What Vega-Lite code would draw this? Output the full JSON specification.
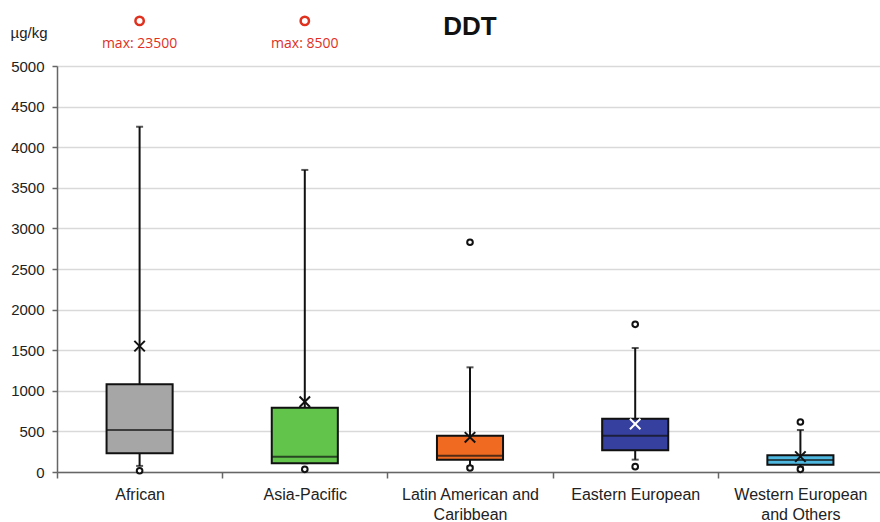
{
  "$schema": "https://vega.github.io/schema/vega-lite/v6.json",
  "width": 826,
  "height": 406,
  "autosize": "none",
  "padding": {"left": 57, "top": 66, "right": 0, "bottom": 50},
  "background": "white",
  "config": {"view": {"stroke": null}, "font": "Liberation Sans"},
  "title": {"text": "DDT", "fontSize": 26, "fontWeight": "bold", "font": "Liberation Sans", "color": "#111", "anchor": "middle", "offset": -28},
  "datasets": {
    "stats": [
      {"region": "African", "lower": 75, "q1": 230, "median": 517, "q3": 1080, "upper": 4252, "mean": 1550},
      {"region": "Asia-Pacific", "lower": 107, "q1": 107, "median": 188, "q3": 792, "upper": 3720, "mean": 866},
      {"region": "Latin American and Caribbean", "lower": 70, "q1": 152, "median": 201, "q3": 447, "upper": 1289, "mean": 427},
      {"region": "Eastern European", "lower": 152, "q1": 267, "median": 447, "q3": 657, "upper": 1527, "mean": 591},
      {"region": "Western European and Others", "lower": 60, "q1": 90, "median": 148, "q3": 205, "upper": 517, "mean": 189}
    ],
    "outliers": [
      {"region": "African", "value": 15},
      {"region": "Asia-Pacific", "value": 33},
      {"region": "Latin American and Caribbean", "value": 49},
      {"region": "Latin American and Caribbean", "value": 2829},
      {"region": "Eastern European", "value": 66},
      {"region": "Eastern European", "value": 1819},
      {"region": "Western European and Others", "value": 33},
      {"region": "Western European and Others", "value": 616}
    ],
    "maxima": [
      {"region": "African", "label": "max: 23500"},
      {"region": "Asia-Pacific", "label": "max: 8500"}
    ]
  },
  "encoding": {
    "x": {
      "field": "region",
      "type": "nominal",
      "sort": ["African", "Asia-Pacific", "Latin American and Caribbean", "Eastern European", "Western European and Others"],
      "scale": {"paddingInner": 0, "paddingOuter": 0},
      "axis": {
        "title": null,
        "labelAngle": 0,
        "tickBand": "extent",
        "domainColor": "#666",
        "domainWidth": 1.5,
        "tickColor": "#666",
        "tickWidth": 1.5,
        "tickSize": 6,
        "labelFont": "Liberation Sans",
        "labelFontSize": 16,
        "labelColor": "#222",
        "labelPadding": 8,
        "labelLineHeight": 20,
        "labelExpr": "datum.value == 'Latin American and Caribbean' ? ['Latin American and', 'Caribbean'] : datum.value == 'Western European and Others' ? ['Western European', 'and Others'] : datum.value"
      }
    }
  },
  "layer": [
    {
      "data": {"name": "stats"},
      "mark": {"type": "rule", "color": "#111", "strokeWidth": 2},
      "encoding": {
        "y": {
          "field": "lower",
          "type": "quantitative",
          "scale": {"domain": [0, 5000], "nice": false},
          "axis": {
            "values": [0, 500, 1000, 1500, 2000, 2500, 3000, 3500, 4000, 4500, 5000],
            "format": "d",
            "title": "µg/kg",
            "titleAngle": 0,
            "titleAlign": "left",
            "titleBaseline": "alphabetic",
            "titleX": -47,
            "titleY": -29,
            "titleFontSize": 15,
            "titleFontWeight": "normal",
            "titleFont": "Liberation Sans",
            "titleColor": "#222",
            "gridColor": "#d9d9d9",
            "gridWidth": 1.5,
            "domainColor": "#666",
            "domainWidth": 1.5,
            "tickColor": "#666",
            "tickWidth": 1.5,
            "tickSize": 5,
            "labelFont": "Liberation Sans",
            "labelFontSize": 15,
            "labelColor": "#222",
            "labelPadding": 8
          }
        },
        "y2": {"field": "upper"}
      }
    },
    {
      "data": {"name": "stats"},
      "mark": {"type": "tick", "color": "#111", "thickness": 2, "size": 7},
      "encoding": {"y": {"field": "upper", "type": "quantitative"}}
    },
    {
      "data": {"name": "stats"},
      "mark": {"type": "tick", "color": "#111", "thickness": 2, "size": 7},
      "encoding": {"y": {"field": "lower", "type": "quantitative"}}
    },
    {
      "data": {"name": "stats"},
      "mark": {"type": "bar", "width": {"band": 0.4}, "stroke": "#111", "strokeWidth": 2},
      "encoding": {
        "y": {"field": "q1", "type": "quantitative"},
        "y2": {"field": "q3"},
        "fill": {
          "field": "region",
          "type": "nominal",
          "legend": null,
          "scale": {
            "domain": ["African", "Asia-Pacific", "Latin American and Caribbean", "Eastern European", "Western European and Others"],
            "range": ["#a6a6a6", "#62c44b", "#f06a21", "#36409f", "#4fb8e0"]
          }
        }
      }
    },
    {
      "data": {"name": "stats"},
      "mark": {"type": "tick", "color": "#111", "thickness": 2, "size": 66},
      "encoding": {"y": {"field": "median", "type": "quantitative"}}
    },
    {
      "data": {"name": "stats"},
      "mark": {"type": "point", "shape": "M-1,-1L1,1M-1,1L1,-1", "filled": false, "strokeWidth": 2, "size": 110, "opacity": 1},
      "encoding": {
        "y": {"field": "mean", "type": "quantitative"},
        "stroke": {"condition": {"test": "datum.region === 'Eastern European'", "value": "white"}, "value": "#111"}
      }
    },
    {
      "data": {"name": "outliers"},
      "mark": {"type": "point", "shape": "circle", "filled": true, "fill": "white", "stroke": "#111", "strokeWidth": 2, "size": 32, "opacity": 1},
      "encoding": {"y": {"field": "value", "type": "quantitative"}}
    },
    {
      "data": {"name": "maxima"},
      "mark": {"type": "point", "shape": "circle", "filled": false, "stroke": "#e0301e", "strokeWidth": 2.5, "size": 70, "opacity": 1, "clip": false},
      "encoding": {"y": {"datum": 5555, "type": "quantitative"}}
    },
    {
      "data": {"name": "maxima"},
      "mark": {"type": "text", "color": "#e0301e", "fontSize": 14, "font": "Open Sans", "baseline": "middle", "clip": false},
      "encoding": {
        "y": {"datum": 5275, "type": "quantitative"},
        "text": {"field": "label"}
      }
    }
  ]
}
